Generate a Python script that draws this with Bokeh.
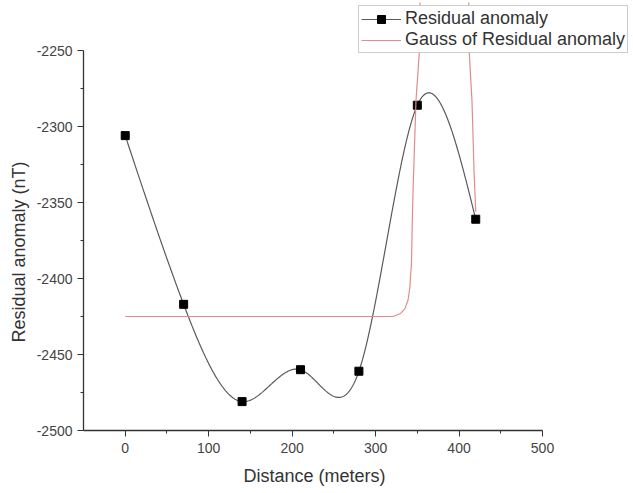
import numpy as np
from bokeh.plotting import figure
from bokeh.models import (Range1d, FixedTicker, Legend, LegendItem, Title,
                          PrintfTickFormatter)
from bokeh.embed import file_html
from bokeh.resources import INLINE

# ---- data ----
distance = [0, 70, 140, 210, 280, 350, 420]
residual = [-2306, -2417, -2481, -2460, -2461, -2286, -2361]

gauss_x = [0, 300, 321, 330, 335, 339, 341, 343, 344, 345, 348.4, 352.3, 355,
           382, 410, 412.3, 415.5, 418, 420]
gauss_y = [-2425, -2425, -2425, -2423, -2420, -2414, -2406, -2390, -2362, -2340,
           -2283, -2252, -2150, -1200, -2150, -2252, -2283, -2330, -2356]

x_ticks = [0, 100, 200, 300, 400, 500]
x_minor = [50, 150, 250, 350, 450]
y_ticks = [-2500, -2450, -2400, -2350, -2300, -2250]
y_minor = [-2475, -2425, -2375, -2325, -2275]


def natural_spline(xs, ys, n=600):
    xs = np.asarray(xs, float)
    ys = np.asarray(ys, float)
    k = len(xs)
    h = np.diff(xs)
    A = np.zeros((k, k))
    r = np.zeros(k)
    A[0, 0] = 1.0
    A[-1, -1] = 1.0
    for i in range(1, k - 1):
        A[i, i - 1] = h[i - 1]
        A[i, i] = 2 * (h[i - 1] + h[i])
        A[i, i + 1] = h[i]
        r[i] = 6 * ((ys[i + 1] - ys[i]) / h[i] - (ys[i] - ys[i - 1]) / h[i - 1])
    M = np.linalg.solve(A, r)
    xx = np.linspace(xs[0], xs[-1], n)
    yy = np.empty_like(xx)
    for j, x in enumerate(xx):
        i = min(np.searchsorted(xs, x, side="right") - 1, k - 2)
        hi = h[i]
        a = xs[i + 1] - x
        b = x - xs[i]
        yy[j] = (M[i] * a ** 3 / (6 * hi) + M[i + 1] * b ** 3 / (6 * hi)
                 + (ys[i] / hi - M[i] * hi / 6) * a
                 + (ys[i + 1] / hi - M[i + 1] * hi / 6) * b)
    return xx, yy


W, H = 633, 493
left, right, top, bottom = 83, 0, 2, 63
frame_w = W - left - right
frame_h = H - top - bottom
px_per_x = (542 - 83) / 550.0
px_per_y = 76 / 50.0
x_end = -50 + frame_w / px_per_x
y_start = -2500
y_end = -2500 + frame_h / px_per_y

p = figure(width=W, height=H, output_backend="svg", toolbar_location=None,
           x_range=Range1d(-50, x_end), y_range=Range1d(y_start, y_end),
           min_border_left=left, min_border_right=right,
           min_border_top=top, min_border_bottom=bottom)
p.outline_line_color = None
p.xgrid.visible = False
p.ygrid.visible = False
p.background_fill_color = "white"
p.border_fill_color = "white"

FONT = "Liberation Sans"

for ax, ticks, minor, bounds in ((p.xaxis[0], x_ticks, x_minor, (-50, 500)),
                                 (p.yaxis[0], y_ticks, y_minor, (-2500, -2250))):
    ax.ticker = FixedTicker(ticks=ticks, minor_ticks=minor)
    ax.formatter = PrintfTickFormatter(format="%d")
    ax.bounds = bounds
    ax.axis_line_color = "#333333"
    ax.axis_line_width = 1.3
    ax.major_tick_line_color = "#333333"
    ax.minor_tick_line_color = "#333333"
    ax.major_tick_out = 6
    ax.major_tick_in = 0
    ax.minor_tick_out = 3
    ax.minor_tick_in = 0
    ax.major_label_text_font = FONT
    ax.major_label_text_font_size = "14px"
    ax.major_label_text_color = "#444444"

p.xaxis[0].major_label_standoff = 6
p.yaxis[0].major_label_standoff = 5

sx, sy = natural_spline(distance, residual)
r_line = p.line(sx, sy, line_color="#5a5a5a", line_width=1.2)
r_pts = p.scatter(distance, residual, marker="square", size=8,
                  fill_color="black", line_color="black")
r_gauss = p.line(gauss_x, gauss_y, line_color="#e08c8c", line_width=1.2)

legend = Legend(items=[LegendItem(label="Residual anomaly", renderers=[r_line, r_pts]),
                       LegendItem(label="Gauss of Residual anomaly", renderers=[r_gauss])],
                location=(358 - left, (H - bottom) - 53),
                orientation="vertical")
legend.label_text_font = FONT
legend.label_text_font_size = "18px"
legend.label_text_color = "#333333"
legend.glyph_width = 40
legend.glyph_height = 20
legend.label_height = 20
legend.label_standoff = 4
legend.padding = 2
legend.spacing = 0
legend.margin = 0
legend.border_line_color = "#999999"
legend.border_line_width = 1
legend.background_fill_color = "white"
legend.background_fill_alpha = 1.0
p.add_layout(legend, "center")

xlab = Title(text="Distance (meters)", align="left", offset=243 - left, standoff=16,
             text_font=FONT, text_font_size="18px", text_font_style="normal",
             text_color="#333333")
ylab = Title(text="Residual anomaly (nT)", align="left", offset=(H - bottom) - 342,
             standoff=9,
             text_font=FONT, text_font_size="18px", text_font_style="normal",
             text_color="#333333")
p.add_layout(xlab, "below")
p.add_layout(ylab, "left")

open("out.html", "w").write(file_html(p, INLINE))
